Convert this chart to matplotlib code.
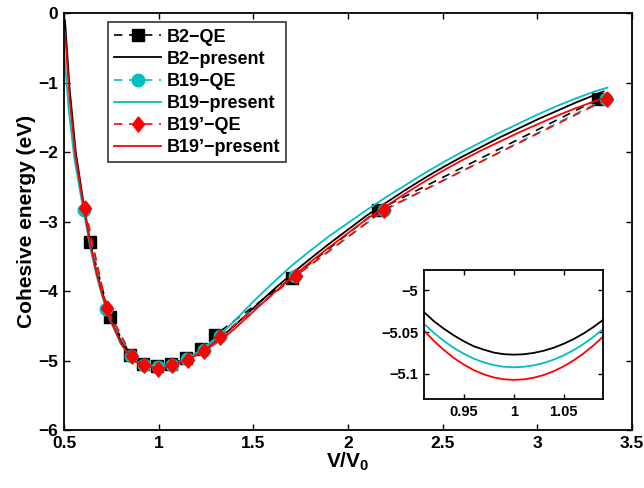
import numpy as np
import matplotlib.pyplot as plt
from matplotlib.ticker import FuncFormatter

plt.rcParams['font.family'] = ['Liberation Sans', 'DejaVu Sans']
plt.rcParams['font.weight'] = 'bold'
plt.rcParams['mathtext.fontset'] = 'custom'
plt.rcParams['mathtext.rm'] = 'Liberation Sans:bold'
plt.rcParams['mathtext.bf'] = 'Liberation Sans:bold'

# QE reference points
b2_qe_x = [0.638, 0.742, 0.85, 0.915, 0.99, 1.067, 1.145, 1.225, 1.300, 1.703, 2.16, 3.32]
b2_qe_y = [-3.30, -4.37, -4.92, -5.05, -5.08, -5.05, -4.97, -4.84, -4.63, -3.81, -2.83, -1.24]
b19_qe_x = [0.608, 0.722, 0.853, 0.920, 0.995, 1.070, 1.150, 1.237, 1.322, 1.720, 2.19, 3.36]
b19_qe_y = [-2.83, -4.26, -4.94, -5.07, -5.09, -5.06, -4.98, -4.85, -4.65, -3.79, -2.84, -1.23]
b19p_qe_x = [0.611, 0.725, 0.857, 0.923, 0.997, 1.072, 1.153, 1.240, 1.324, 1.725, 2.19, 3.367]
b19p_qe_y = [-2.81, -4.24, -4.93, -5.07, -5.12, -5.07, -4.99, -4.86, -4.66, -3.78, -2.83, -1.24]

# present model curves
b2_x = [0.505, 0.53, 0.562, 0.6, 0.637, 0.67, 0.7, 0.74, 0.8, 0.85, 0.88,
        0.91, 0.92, 0.93, 0.94, 0.95, 0.96, 0.97, 0.98, 0.99, 1.0,
        1.01, 1.02, 1.03, 1.04, 1.05, 1.06, 1.07, 1.08, 1.09,
        1.1, 1.15, 1.2, 1.25, 1.3, 1.35, 1.4, 1.5, 1.6, 1.7, 1.8, 1.9, 2.0,
        2.1, 2.2, 2.3, 2.4, 2.5, 2.6, 2.7, 2.8, 2.9, 3.0, 3.1, 3.2, 3.3, 3.35]
b2_y = [-0.10, -1.1, -2.0, -2.68, -3.28, -3.70, -4.0, -4.35, -4.72, -4.92, -4.99,
        -5.026, -5.037, -5.046, -5.054, -5.061, -5.067, -5.071, -5.0745, -5.0764, -5.077,
        -5.0765, -5.0749, -5.0723, -5.0687, -5.064, -5.0583, -5.0516, -5.0438, -5.035,
        -5.025, -4.97, -4.895, -4.815, -4.72, -4.615, -4.50, -4.245, -3.995, -3.76, -3.535,
        -3.32, -3.115, -2.91, -2.73, -2.55, -2.38, -2.22, -2.07, -1.93, -1.79, -1.66,
        -1.53, -1.41, -1.29, -1.18, -1.125]
b19_x = [0.5, 0.525, 0.555, 0.6, 0.637, 0.67, 0.7, 0.74, 0.8, 0.85, 0.88,
         0.91, 0.92, 0.93, 0.94, 0.95, 0.96, 0.97, 0.98, 0.99, 1.0,
         1.01, 1.02, 1.03, 1.04, 1.05, 1.06, 1.07, 1.08, 1.09,
         1.1, 1.15, 1.2, 1.25, 1.3, 1.35, 1.4, 1.5, 1.6, 1.7, 1.8, 1.9, 2.0,
         2.1, 2.2, 2.3, 2.4, 2.5, 2.6, 2.7, 2.8, 2.9, 3.0, 3.1, 3.2, 3.3, 3.37]
b19_y = [-0.53, -1.4, -2.1, -2.8, -3.35, -3.76, -4.06, -4.4, -4.76, -4.95, -5.01,
         -5.040, -5.0509, -5.0605, -5.0689, -5.0759, -5.0817, -5.0862, -5.0894, -5.0914, -5.092,
         -5.0914, -5.0897, -5.0869, -5.0829, -5.0777, -5.0715, -5.0641, -5.0555, -5.0458,
         -5.037, -4.975, -4.89, -4.79, -4.68, -4.56, -4.43, -4.15, -3.89, -3.64, -3.42,
         -3.21, -3.02, -2.83, -2.65, -2.48, -2.31, -2.15, -2.00, -1.86, -1.72, -1.59,
         -1.46, -1.34, -1.23, -1.13, -1.07]
b19p_x = [0.505, 0.53, 0.56, 0.6, 0.637, 0.67, 0.7, 0.74, 0.8, 0.85, 0.88,
          0.91, 0.92, 0.93, 0.94, 0.95, 0.96, 0.97, 0.98, 0.99, 1.0,
          1.01, 1.02, 1.03, 1.04, 1.05, 1.06, 1.07, 1.08, 1.09,
          1.1, 1.15, 1.2, 1.25, 1.3, 1.35, 1.4, 1.5, 1.6, 1.7, 1.8, 1.9, 2.0,
          2.1, 2.2, 2.3, 2.4, 2.5, 2.6, 2.7, 2.8, 2.9, 3.0, 3.1, 3.2, 3.3, 3.35]
b19p_y = [-0.27, -1.25, -2.05, -2.72, -3.3, -3.72, -4.03, -4.38, -4.75, -4.95, -5.02,
          -5.048, -5.0604, -5.0713, -5.0808, -5.0888, -5.0954, -5.1004, -5.1041, -5.1063, -5.107,
          -5.1064, -5.1044, -5.1012, -5.0967, -5.0908, -5.0837, -5.0753, -5.0657, -5.0547,
          -5.045, -4.99, -4.92, -4.84, -4.755, -4.655, -4.545, -4.295, -4.045, -3.81, -3.585,
          -3.37, -3.165, -2.96, -2.78, -2.60, -2.43, -2.27, -2.12, -1.98, -1.85, -1.72,
          -1.60, -1.48, -1.37, -1.27, -1.22]

cyan = '#00bfbf'
diamond = [(0, 1), (0.78, 0), (0, -1), (-0.78, 0), (0, 1)]

fig = plt.figure(figsize=(6.44, 4.88), dpi=100)
ax = fig.add_axes([0.0994, 0.1189, 0.882, 0.854])

ax.plot(b2_qe_x, b2_qe_y, '--', color='k', lw=1.2, dashes=(5, 4), marker='s', ms=8,
        mfc='k', mec='k', label='B2\u2212QE')
ax.plot(b2_x, b2_y, '-', color='k', lw=1.3, label='B2\u2212present')
ax.plot(b19_qe_x, b19_qe_y, '--', color=cyan, lw=1.2, dashes=(5, 4), marker='o', ms=9,
        mfc=cyan, mec=cyan, label='B19\u2212QE')
ax.plot(b19_x, b19_y, '-', color=cyan, lw=1.3, label='B19\u2212present')
ax.plot(b19p_qe_x, b19p_qe_y, '--', color='r', lw=1.2, dashes=(5, 4), marker=diamond, ms=11,
        mfc='r', mec='r', label='B19\u2019\u2212QE')
ax.plot(b19p_x, b19p_y, '-', color='r', lw=1.3, label='B19\u2019\u2212present')

fmt = FuncFormatter(lambda v, p: ('%g' % v).replace('-', '\u2212'))

ax.set_xlim(0.5, 3.5)
ax.set_ylim(-6, 0)
ax.set_xticks(np.arange(0.5, 3.51, 0.5))
ax.set_yticks(np.arange(-6, 0.1, 1))
ax.xaxis.set_major_formatter(fmt)
ax.yaxis.set_major_formatter(fmt)
ax.tick_params(direction='in', top=True, right=True, length=4, width=1, labelsize=12.5, pad=4)
for s in ax.spines.values():
    s.set_linewidth(1.3)
ax.set_xlabel(r'V/V$_\mathbf{0}$', fontsize=15, fontweight='bold', labelpad=0)
ax.set_ylabel('Cohesive energy (eV)', fontsize=15, fontweight='bold', labelpad=2)

leg = ax.legend(loc='upper left', bbox_to_anchor=(0.077, 0.978), borderaxespad=0,
                fontsize=13, handlelength=2.6, numpoints=1, labelspacing=0.28,
                frameon=True, fancybox=False, borderpad=0.35, handletextpad=0.3)
leg.get_frame().set_edgecolor('k')
leg.get_frame().set_linewidth(1.2)
for t in leg.get_texts():
    t.set_fontweight('bold')

# inset around the minimum
axi = fig.add_axes([0.658, 0.182, 0.278, 0.265])
axi.plot(b2_x, b2_y, '-', color='k', lw=1.3)
axi.plot(b19_x, b19_y, '-', color=cyan, lw=1.3)
axi.plot(b19p_x, b19p_y, '-', color='r', lw=1.3)
axi.set_xlim(0.91, 1.089)
axi.set_ylim(-5.13, -4.976)
axi.set_xticks([0.95, 1.0, 1.05])
axi.set_yticks([-5.1, -5.05, -5.0])
axi.xaxis.set_major_formatter(fmt)
axi.yaxis.set_major_formatter(fmt)
axi.tick_params(direction='in', top=True, right=True, length=3.5, width=1, labelsize=10.5, pad=4)
for s in axi.spines.values():
    s.set_linewidth(1.3)

fig.savefig('out.png', dpi=100)
